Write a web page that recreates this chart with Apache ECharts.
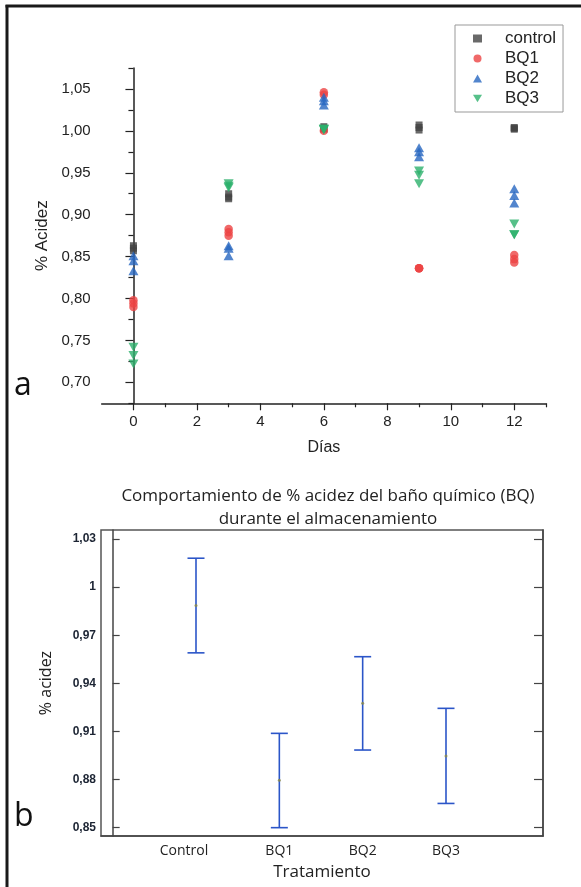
<!DOCTYPE html>
<html>
<head>
    <meta charset="utf-8"/>
    <style>
        html, body {
            margin: 0;
            padding: 0;
            background: #fff;
        }
        #main {
            width: 581px;
            height: 887px;
        }
    </style>
</head>
<body>
<div id="main"></div>
<script src="https://cdn.jsdelivr.net/npm/echarts@6/dist/echarts.min.js"></script>
<script type="text/javascript">
// ---- panel a: % acidez por día ----
var days = [0, 3, 6, 9, 12];
var controlVals = [[0.863, 0.860, 0.857], [0.925, 0.921, 0.919], [1.005, 1.003, 1.002], [1.007, 1.004, 1.001], [1.004, 1.003, 1.002]];
var bq1Vals = [[0.798, 0.794, 0.790], [0.883, 0.879, 0.875], [1.046, 1.043, 1.000], [0.836, 0.836, 0.836], [0.852, 0.847, 0.843]];
var bq2Vals = [[0.851, 0.845, 0.833], [0.863, 0.860, 0.851], [1.040, 1.036, 1.031], [0.980, 0.975, 0.969], [0.931, 0.923, 0.914]];
var bq3Vals = [[0.742, 0.732, 0.722], [0.937, 0.934, 0.932], [1.002, 1.002, 1.001], [0.952, 0.947, 0.937], [0.889, 0.876, 0.876]];
var xTicksA = [0, 2, 4, 6, 8, 10, 12];
var xMinorA = [1, 3, 5, 7, 9, 11, 13];
var yTicksA = [0.70, 0.75, 0.80, 0.85, 0.90, 0.95, 1.00, 1.05];
var yMinorA = [0.675, 0.725, 0.775, 0.825, 0.875, 0.925, 0.975, 1.025, 1.075];

// ---- panel b: medias e intervalos por tratamiento ----
var treatments = ['Control', 'BQ1', 'BQ2', 'BQ3'];
var means = [0.9886, 0.8795, 0.9275, 0.8947];
var lower = [0.9590, 0.8500, 0.8984, 0.8651];
var upper = [1.0180, 0.9088, 0.9566, 0.9244];
var yTicksB = [0.85, 0.88, 0.91, 0.94, 0.97, 1.00, 1.03];

var myChart = echarts.init(document.getElementById('main'));

var axisColor = '#222';
var fontA = 'Liberation Sans, Arial, sans-serif';
var fontB = 'Open Sans, Noto Sans, sans-serif';

function toPoints(vals) {
    var pts = [];
    for (var i = 0; i < days.length; i++) {
        for (var j = 0; j < vals[i].length; j++) {
            pts.push([days[i], vals[i][j]]);
        }
    }
    return pts;
}

function commaFmt(v) {
    return v.toFixed(2).replace('.', ',');
}

var downTri = 'path://M0,0L10,0L5,8.5Z';

var seriesA = [
    {name: 'control', symbol: 'rect', size: [7, 7], color: '#444444', vals: controlVals},
    {name: 'BQ1', symbol: 'circle', size: 8.5, color: '#ec4444', vals: bq1Vals},
    {name: 'BQ2', symbol: 'triangle', size: [10, 9], color: '#2767c0', vals: bq2Vals},
    {name: 'BQ3', symbol: downTri, size: [10, 9], color: '#2cb06c', vals: bq3Vals}
];

var option = {
    animation: false,
    backgroundColor: '#fff',
    title: {
        text: 'Comportamiento de % acidez del baño químico (BQ)\ndurante el almacenamiento',
        left: 323,
        top: 480,
        textAlign: 'center',
        textStyle: {
            fontFamily: fontB,
            fontSize: 17,
            fontWeight: 'normal',
            lineHeight: 23,
            color: '#222'
        }
    },
    legend: {
        left: 455,
        top: 25,
        orient: 'vertical',
        padding: [5, 7, 5, 18],
        itemGap: 3,
        itemWidth: 9,
        itemHeight: 8,
        borderColor: '#999',
        borderWidth: 1,
        selectedMode: false,
        textStyle: {
            fontFamily: fontA,
            fontSize: 17,
            color: '#222',
            padding: [0, 0, 0, 18]
        },
        data: ['control', 'BQ1', 'BQ2', 'BQ3']
    },
    grid: [
        {left: 101.7, top: 68, width: 444.3, height: 335.3},
        {left: 101, top: 530, width: 442, height: 306, show: true, borderColor: '#555', borderWidth: 1.5}
    ],
    xAxis: [
        {
            gridIndex: 0, type: 'value', min: -1, max: 13,
            name: 'Días', nameLocation: 'middle', nameGap: 36,
            nameTextStyle: {fontFamily: fontA, fontSize: 16, color: '#222'},
            axisLine: {lineStyle: {color: axisColor, width: 1.5}},
            axisTick: {customValues: xTicksA, length: 7, lineStyle: {color: axisColor, width: 1.2}},
            axisLabel: {customValues: xTicksA, margin: 11, fontFamily: fontA, fontSize: 15, color: '#222'},
            splitLine: {show: false}
        },
        {
            gridIndex: 0, type: 'value', min: -1, max: 13, position: 'bottom',
            axisLine: {show: false},
            axisTick: {customValues: xMinorA, length: 4, lineStyle: {color: axisColor, width: 1.2}},
            axisLabel: {show: false},
            splitLine: {show: false}
        },
        {
            gridIndex: 1, type: 'value', min: -0.14, max: 5.164,
            name: 'Tratamiento', nameLocation: 'middle', nameGap: 28,
            nameTextStyle: {fontFamily: fontB, fontSize: 17, color: '#222'},
            axisLine: {lineStyle: {color: '#444', width: 1.5}},
            axisTick: {show: false},
            axisLabel: {
                customValues: [1, 2, 3, 4],
                margin: 8,
                fontFamily: fontB,
                fontSize: 14,
                color: '#222',
                formatter: function (v) {
                    var name = treatments[Math.round(v) - 1];
                    return name === 'Control' ? '{c|' + name + '}' : name;
                },
                rich: {c: {fontFamily: fontB, fontSize: 14, color: '#222', padding: [0, 24, 0, 0]}}
            },
            splitLine: {show: false}
        }
    ],
    yAxis: [
        {
            gridIndex: 0, type: 'value', min: 0.675, max: 1.075,
            name: '% Acidez', nameLocation: 'middle', nameGap: 48,
            nameTextStyle: {fontFamily: fontA, fontSize: 17, color: '#222'},
            axisLine: {show: true, lineStyle: {color: axisColor, width: 1.5}},
            axisTick: {show: true, customValues: yTicksA, length: 8, lineStyle: {color: axisColor, width: 1.2}},
            axisLabel: {customValues: yTicksA, margin: 11, fontFamily: fontA, fontSize: 15, color: '#222', formatter: commaFmt},
            splitLine: {show: false}
        },
        {
            gridIndex: 0, type: 'value', min: 0.675, max: 1.075, position: 'left',
            axisLine: {show: false},
            axisTick: {show: true, customValues: yMinorA, length: 5, lineStyle: {color: axisColor, width: 1.2}},
            axisLabel: {show: false},
            splitLine: {show: false}
        },
        {
            gridIndex: 1, type: 'value', min: 0.8448, max: 1.0356, position: 'left',
            name: '% acidez', nameLocation: 'middle', nameGap: 47,
            nameTextStyle: {fontFamily: fontB, fontSize: 16, color: '#222'},
            axisLine: {show: true, lineStyle: {color: '#444', width: 1.5}},
            axisTick: {show: true, inside: true, customValues: yTicksB, length: 7, lineStyle: {color: '#444', width: 1.2}},
            axisLabel: {
                customValues: yTicksB, margin: 5,
                fontFamily: fontA, fontSize: 12, fontWeight: 'bold', color: '#1c2433',
                formatter: function (v) {
                    return Math.abs(v - 1) < 1e-9 ? '1' : commaFmt(v);
                }
            },
            splitLine: {show: false}
        },
        {
            gridIndex: 1, type: 'value', min: 0.8448, max: 1.0356, position: 'right',
            axisLine: {show: true, lineStyle: {color: '#444', width: 1.5}},
            axisTick: {show: true, inside: true, customValues: yTicksB, length: 9, lineStyle: {color: '#444', width: 1.2}},
            axisLabel: {show: false},
            splitLine: {show: false}
        }
    ],
    graphic: [
        {type: 'line', shape: {x1: 7, y1: 5, x2: 7, y2: 887}, style: {stroke: '#1a1a1a', lineWidth: 3}},
        {type: 'line', shape: {x1: 5.5, y1: 6, x2: 581, y2: 6}, style: {stroke: '#1a1a1a', lineWidth: 3}},
        {type: 'text', left: 14, top: 370, style: {text: 'a', font: '32px Open Sans', fill: '#111'}},
        {type: 'text', left: 14, top: 801, style: {text: 'b', font: '32px Open Sans', fill: '#111'}}
    ],
    series: []
};

for (var i = 0; i < seriesA.length; i++) {
    var s = seriesA[i];
    option.series.push({
        name: s.name,
        type: 'scatter',
        xAxisIndex: 0,
        yAxisIndex: 0,
        symbol: s.symbol,
        symbolSize: s.size,
        itemStyle: {color: s.color},
        data: toPoints(s.vals)
    });
}

var barData = [];
var meanData = [];
for (var k = 0; k < treatments.length; k++) {
    barData.push([k + 1, lower[k], upper[k]]);
    meanData.push([k + 1, means[k]]);
}

option.series.push({
    type: 'custom',
    xAxisIndex: 2,
    yAxisIndex: 2,
    data: barData,
    renderItem: function (params, api) {
        var x = api.value(0);
        var pLo = api.coord([x, api.value(1)]);
        var pHi = api.coord([x, api.value(2)]);
        var half = 8.5;
        var st = {stroke: '#2b55c8', lineWidth: 1.6};
        return {
            type: 'group',
            children: [
                {type: 'line', shape: {x1: pLo[0], y1: pLo[1], x2: pHi[0], y2: pHi[1]}, style: st},
                {type: 'line', shape: {x1: pHi[0] - half, y1: pHi[1], x2: pHi[0] + half, y2: pHi[1]}, style: st},
                {type: 'line', shape: {x1: pLo[0] - half, y1: pLo[1], x2: pLo[0] + half, y2: pLo[1]}, style: st}
            ]
        };
    }
});

option.series.push({
    type: 'scatter',
    xAxisIndex: 2,
    yAxisIndex: 2,
    symbol: 'circle',
    symbolSize: 3,
    itemStyle: {color: '#8c8a45'},
    data: meanData
});

myChart.setOption(option);
</script>
</body>
</html>
